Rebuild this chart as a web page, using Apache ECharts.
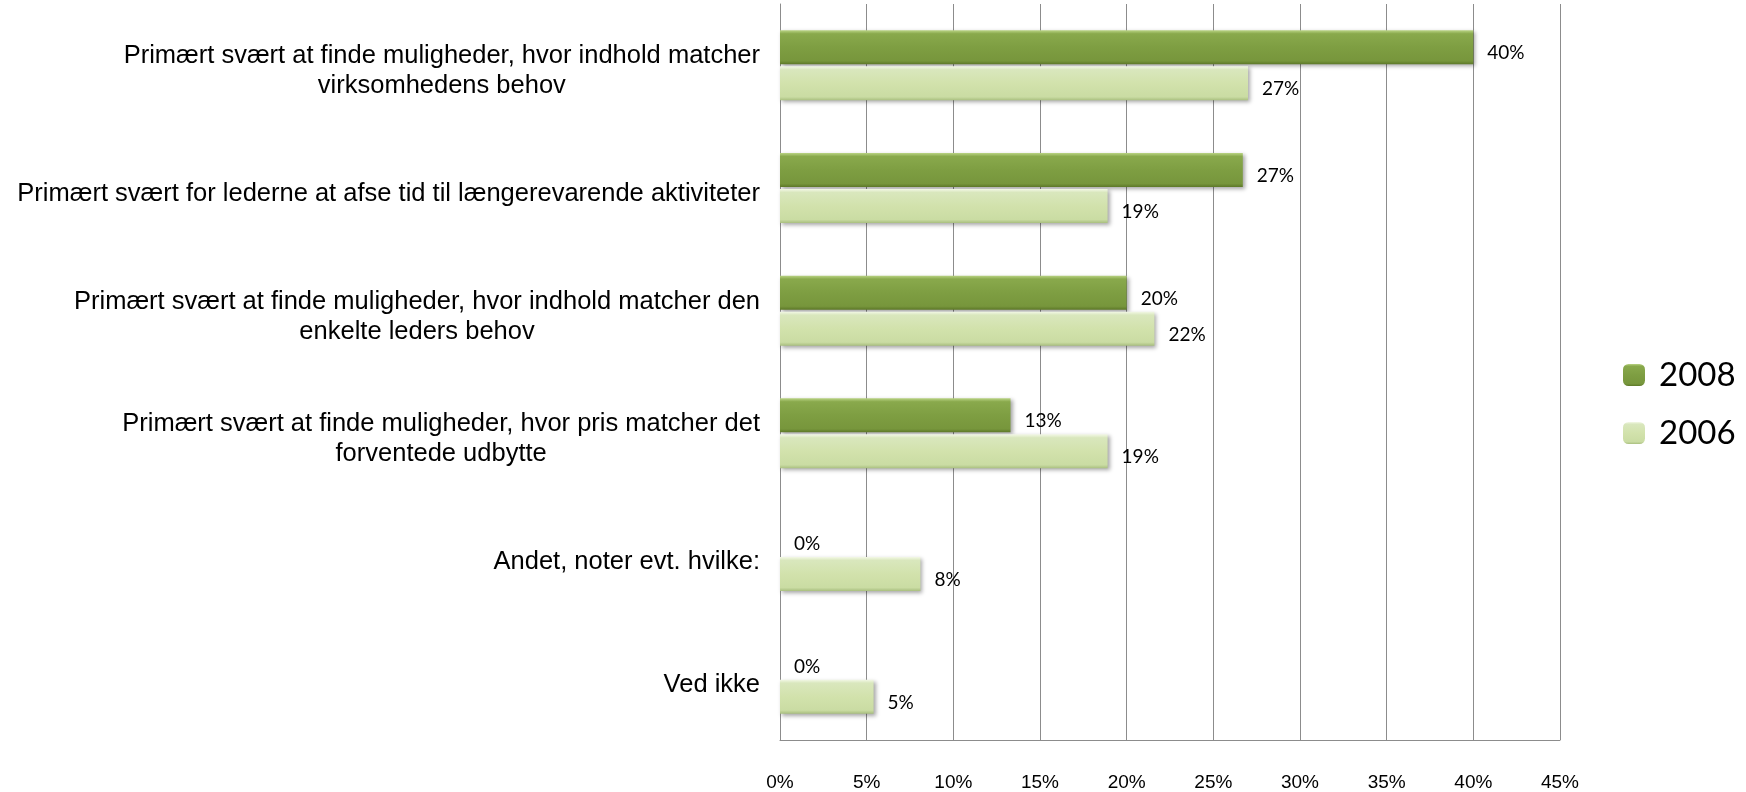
<!DOCTYPE html>
<html>
<head>
<meta charset="utf-8">
<script src="https://cdn.jsdelivr.net/npm/echarts@6/dist/echarts.min.js"></script>
<style>
html,body{margin:0;padding:0;background:#fff;}
#chart{width:1746px;height:792px;}
</style>
</head>
<body>
<div id="chart"></div>
<script>
var categories = [
  "Primært svært at finde muligheder, hvor indhold matcher\nvirksomhedens behov",
  "Primært svært for lederne at afse tid til længerevarende aktiviteter",
  "Primært svært at finde muligheder, hvor indhold matcher den\nenkelte leders behov",
  "Primært svært at finde muligheder, hvor pris matcher det\nforventede udbytte",
  "Andet, noter evt. hvilke:",
  "Ved ikke"
];
var seriesNames = ["2008", "2006"];
var values2008 = [40.0, 26.7, 20.0, 13.3, 0, 0];
var values2006 = [27.0, 18.9, 21.6, 18.9, 8.1, 5.4];
var xTicks = {min: 0, max: 45, interval: 5};

var darkGrad = {type:'linear', x:0, y:0, x2:0, y2:1, colorStops:[
  {offset:0, color:'#b9d383'}, {offset:0.1, color:'#89a94c'},
  {offset:0.5, color:'#7e9e42'}, {offset:0.9, color:'#77963c'}, {offset:1, color:'#5d7828'}]};
var lightGrad = {type:'linear', x:0, y:0, x2:0, y2:1, colorStops:[
  {offset:0, color:'#f3f8e6'}, {offset:0.1, color:'#d9e7bd'},
  {offset:0.5, color:'#d2e2ac'}, {offset:0.9, color:'#cadca3'}, {offset:1, color:'#a9bf7f'}]};

var chart = echarts.init(document.getElementById('chart'), null, {renderer:'canvas'});
var labelBase = {
  show: true, position: 'right', distance: 14,
  fontFamily: 'Lato, Calibri, sans-serif', fontSize: 19, color: '#000',
  offset: [0, 6],
  formatter: function(p){ return Math.round(p.value) + '%'; }
};
chart.setOption({
  animation: false,
  backgroundColor: '#fff',
  grid: {left: 780, right: 186, top: 4, bottom: 48, containLabel: false},
  legend: {
    orient: 'vertical', left: 1618, top: 350,
    itemWidth: 22, itemHeight: 22, itemGap: 18,
    textStyle: {fontFamily: 'Lato, Calibri, sans-serif', fontSize: 33, color: '#000', lineHeight: 40,
      padding: [0, 0, 0, 9]},
    data: seriesNames
  },
  xAxis: {
    type: 'value', min: xTicks.min, max: xTicks.max, interval: xTicks.interval,
    axisLine: {show: true, lineStyle: {color: '#8c8c8c', width: 1}},
    axisTick: {show: false},
    splitLine: {show: true, lineStyle: {color: '#8c8c8c', width: 1}},
    axisLabel: {formatter: '{value}%', margin: 33, color: '#000',
      fontFamily: '"Liberation Sans", Arial, sans-serif', fontSize: 19}
  },
  yAxis: {
    type: 'category', inverse: true, data: categories,
    axisLine: {show: true, lineStyle: {color: '#8c8c8c', width: 1}},
    axisTick: {show: false},
    axisLabel: {
      margin: 20, color: '#000', padding: [12, 0, 0, 0],
      formatter: function(v){ return '{a|' + v + '}'; },
      rich: {a: {align: 'center', fontFamily: '"Liberation Sans", Arial, sans-serif',
        fontSize: 25.5, lineHeight: 30, color: '#000'}}
    }
  },
  series: [
    {
      name: seriesNames[0], type: 'bar', data: values2008,
      barCategoryGap: '43%', barGap: '6%',
      itemStyle: {color: darkGrad, shadowColor: 'rgba(0,0,0,0.35)', shadowBlur: 4, shadowOffsetX: 2, shadowOffsetY: 2},
      label: labelBase
    },
    {
      name: seriesNames[1], type: 'bar', data: values2006,
      itemStyle: {color: lightGrad, shadowColor: 'rgba(0,0,0,0.35)', shadowBlur: 4, shadowOffsetX: 2, shadowOffsetY: 2},
      label: labelBase
    }
  ]
});
</script>
</body>
</html>
